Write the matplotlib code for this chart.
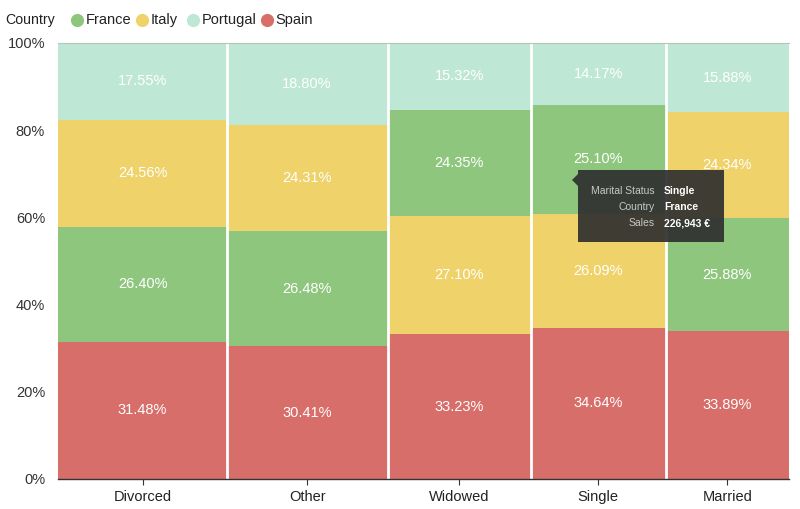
import matplotlib
matplotlib.use("Agg")
import matplotlib.pyplot as plt
from matplotlib.lines import Line2D
from matplotlib.patches import FancyBboxPatch, Polygon
import numpy as np

plt.rcParams['font.family'] = ['Liberation Sans', 'DejaVu Sans']

statuses = ['Divorced', 'Other', 'Widowed', 'Single', 'Married']
# total sales per marital status (thousand €), gives column widths
totals = [1128, 1077, 959, 904, 826]
countries = ['France', 'Italy', 'Portugal', 'Spain']
france = [26.40, 26.48, 24.35, 25.10, 25.88]
italy = [24.56, 24.31, 27.10, 26.09, 24.34]
portugal = [17.55, 18.80, 15.32, 14.17, 15.88]
spain = [31.48, 30.41, 33.23, 34.64, 33.89]
yticks = [0, 20, 40, 60, 80, 100]
ytick_labels = ['0%', '20%', '40%', '60%', '80%', '100%']

colors = {'France': '#8EC67E', 'Italy': '#EFD26A', 'Portugal': '#BEE8D5', 'Spain': '#D76E69'}
series = {'France': france, 'Italy': italy, 'Portugal': portugal, 'Spain': spain}

W, H = 800, 509
FS = 10.5
fig = plt.figure(figsize=(W / 100, H / 100), dpi=100)
ax = fig.add_axes([58.3 / W, 1 - 479 / H, (789 - 58.3) / W, (479 - 43) / H])

total_sum = sum(totals)
lefts = np.concatenate([[0], np.cumsum(totals)[:-1]])
for i, st in enumerate(statuses):
    vals = sorted([(series[c][i], c) for c in countries], reverse=True)
    bottom = 0
    for v, c in vals:
        ax.bar(lefts[i], v, width=totals[i], bottom=bottom, align='edge',
               color=colors[c], linewidth=0, zorder=2)
        ax.text(lefts[i] + totals[i] / 2, bottom + v / 2, f'{v:.2f}%',
                ha='center', va='center', color='white', fontsize=FS, zorder=3)
        bottom += v

for b in lefts[1:]:
    ax.axvline(b, color='white', lw=2.0, zorder=2.5)

ax.set_xlim(0, total_sum)
ax.set_ylim(0, 100)
ax.set_yticks(yticks)
ax.set_yticklabels(ytick_labels, fontsize=FS, color='#333333')
ax.tick_params(axis='y', length=0, pad=9.5)
ax.set_xticks(lefts + np.array(totals) / 2)
ax.set_xticklabels(statuses, fontsize=FS, color='#222222')
ax.tick_params(axis='x', length=4, color='#333333', pad=4)
for s in ['left', 'right']:
    ax.spines[s].set_visible(False)
ax.spines['top'].set_color('#b5c4bb')
ax.spines['top'].set_linewidth(0.8)
ax.spines['bottom'].set_color('#333333')
ax.spines['bottom'].set_linewidth(1.0)

# legend (manual layout)
ly = 1 - 20 / H
fig.text(5 / W, ly, 'Country', fontsize=10.2, va='center', ha='left', color='#222222')
legend_x = [77, 142, 193, 267]
for c, px in zip(countries, legend_x):
    fig.add_artist(Line2D([px / W], [ly], marker='o', ls='', markersize=9.5,
                          markerfacecolor=colors[c], markeredgewidth=0,
                          transform=fig.transFigure))
    fig.text((px + 8.5) / W, ly, c, fontsize=FS, va='center', ha='left', color='#222222')

# tooltip
x0, y0, x1, y1 = 578 / W, 1 - 242 / H, 724 / W, 1 - 170 / H
box = FancyBboxPatch((x0, y0), x1 - x0, y1 - y0, boxstyle='square,pad=0',
                     transform=fig.transFigure, facecolor='#2f2f2f', alpha=0.92,
                     edgecolor='none', zorder=10)
fig.add_artist(box)
tri = Polygon([[x0, 1 - 174 / H], [x0, 1 - 186 / H], [572 / W, 1 - 180 / H]], closed=True,
              transform=fig.transFigure, facecolor='#2f2f2f', alpha=0.92, edgecolor='none', zorder=10)
fig.add_artist(tri)
tip_keys = ['Marital Status', 'Country', 'Sales']
tip_vals = ['Single', 'France', '226,943 €']
for k, (key, val) in enumerate(zip(tip_keys, tip_vals)):
    yy = 1 - (191 + 16 * k) / H
    fig.text(655 / W, yy, key, ha='right', va='center', fontsize=7.5, color='#c8c8c8', zorder=11)
    fig.text(664 / W, yy, val, ha='left', va='center', fontsize=7.5, color='white',
             fontweight='bold', zorder=11)

fig.savefig('out.png', dpi=100)
